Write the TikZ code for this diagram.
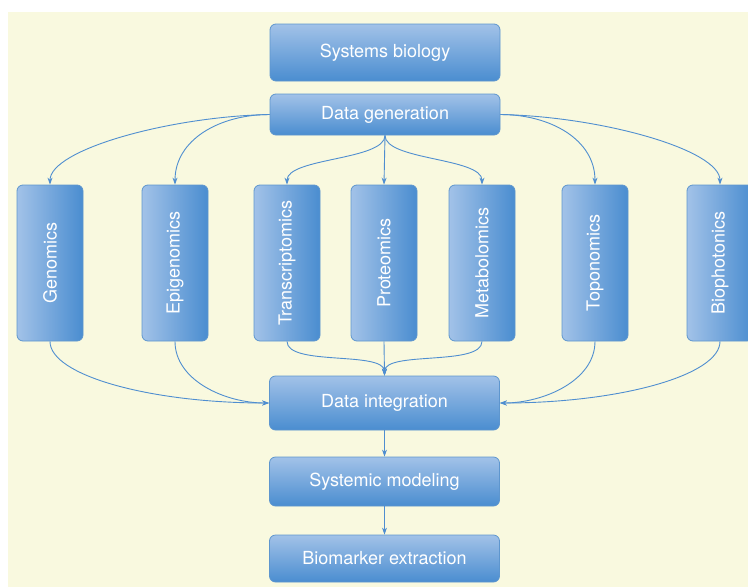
\documentclass[tikz,border=0pt]{standalone}
\usepackage{fontspec}
\setmainfont{TeX Gyre Heros}
\usetikzlibrary{arrows.meta}
\definecolor{bgyellow}{HTML}{F9F9DF}
\definecolor{boxlight}{HTML}{A2C2E8}
\definecolor{boxdark}{HTML}{4A8DD0}
\definecolor{boxedge}{HTML}{5E96CE}
\definecolor{linkblue}{HTML}{4F8ED0}
\begin{document}
\begin{tikzpicture}[x=1pt,y=-1pt,
  hbox/.style={draw=boxedge, line width=0.8pt, rounded corners=6pt,
    top color=boxlight, bottom color=boxdark, text=white,
    minimum width=230pt, inner sep=0pt,
    font=\fontsize{18}{20}\selectfont},
  vbox/.style={draw=boxedge, line width=0.8pt, rounded corners=6pt,
    left color=boxlight, middle color=boxdark!80!boxlight, right color=boxdark,
    text=white, minimum width=66pt, minimum height=156pt, inner sep=0pt,
    font=\fontsize{18}{20}\selectfont},
  link/.style={draw=linkblue, line width=0.9pt,
    -{Stealth[length=7pt,width=5pt]}}
]
\useasboundingbox (0,0) rectangle (748,587);
\fill[bgyellow] (8,12) rectangle (748,587);

\node[hbox, minimum height=57pt] (sb) at (385,52.5) {Systems biology};
\node[hbox, minimum height=41pt] (dg) at (385,114.5) {Data generation};
\node[hbox, minimum height=54pt] (di) at (384.5,403) {Data integration};
\node[hbox, minimum height=49pt] (sm) at (384.5,481.5) {Systemic modeling};
\node[hbox, minimum height=47pt] (bm) at (384.5,558.5) {Biomarker extraction};

\node[vbox] (gen) at (50,263) {\rotatebox{90}{Genomics}};
\node[vbox] (epi) at (175,263) {\rotatebox{90}{Epigenomics}};
\node[vbox] (tra) at (287,263) {\rotatebox{90}{Transcriptomics}};
\node[vbox] (pro) at (384,263) {\rotatebox{90}{Proteomics}};
\node[vbox] (met) at (482,263) {\rotatebox{90}{Metabolomics}};
\node[vbox] (top) at (595,263) {\rotatebox{90}{Toponomics}};
\node[vbox] (bio) at (720,263) {\rotatebox{90}{Biophotonics}};

% from data generation
\draw[link] (dg.west) .. controls +(-100,2) and +(0,-35) .. (gen.north);
\draw[link] (dg.west) .. controls +(-50,0) and +(0,-45) .. (epi.north);
\draw[link] (dg.south) .. controls +(0,25) and +(0,-27) .. (tra.north);
\draw[link] (dg.south) -- (pro.north);
\draw[link] (dg.south) .. controls +(0,25) and +(0,-27) .. (met.north);
\draw[link] (dg.east) .. controls +(50,0) and +(0,-45) .. (top.north);
\draw[link] (dg.east) .. controls +(100,2) and +(0,-35) .. (bio.north);

% to data integration
\draw[link] (gen.south) .. controls +(0,34) and +(-119,0) .. (di.west);
\draw[link] (epi.south) .. controls +(0,39) and +(-44,0) .. (di.west);
\draw[link] (tra.south) .. controls +(0,25) and +(0,-25) .. (di.north);
\draw[link] (pro.south) -- (di.north);
\draw[link] (met.south) .. controls +(0,25) and +(0,-25) .. (di.north);
\draw[link] (top.south) .. controls +(0,39) and +(44,0) .. (di.east);
\draw[link] (bio.south) .. controls +(0,34) and +(119,0) .. (di.east);

\draw[link] (di.south) -- (sm.north);
\draw[link] (sm.south) -- (bm.north);
\end{tikzpicture}
\end{document}
